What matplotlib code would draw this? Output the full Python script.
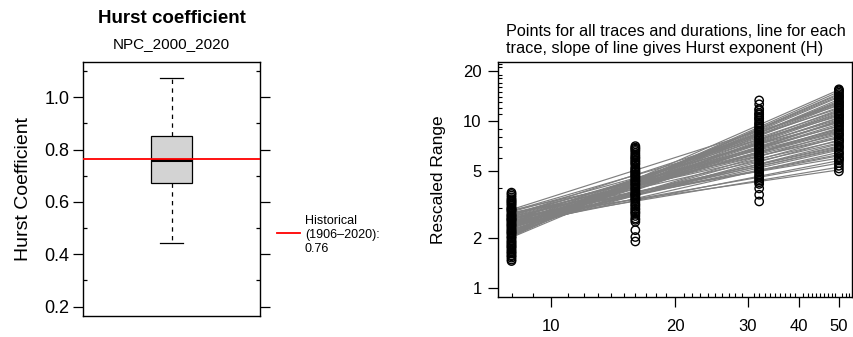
import matplotlib
matplotlib.use('Agg')
import matplotlib.pyplot as plt
import numpy as np
from matplotlib.ticker import FixedLocator, NullFormatter, FixedFormatter
from matplotlib.lines import Line2D

plt.rcParams['font.family'] = ['Liberation Sans', 'DejaVu Sans']

# ---------------- data ----------------
hurst_title = "Hurst coefficient"
hurst_subtitle = "NPC_2000_2020"
hurst_med = 0.760
hurst_q1 = 0.672
hurst_q3 = 0.851
hurst_whislo = 0.444
hurst_whishi = 1.073
historical_h = 0.764
historical_label = "Historical\n(1906\u20132020):\n0.76"

durations = [8, 16, 32, 50]
rs_8 = [2.31, 1.87, 2.64, 1.52, 3.05, 2.12, 2.78, 1.69, 3.41, 2.45, 1.98, 2.89, 1.61, 2.23, 3.22,
        2.56, 1.76, 3.58, 2.03, 2.71, 1.48, 2.38, 3.12, 1.93, 2.84, 2.17, 3.66, 1.57, 2.49, 2.95,
        1.81, 3.31, 2.27, 1.66, 2.60, 3.00, 2.08, 3.49, 1.73, 2.41, 1.45, 2.68, 3.17, 1.90, 2.53,
        3.73, 2.14, 1.63, 2.99, 2.35, 1.84, 3.27, 2.74, 1.55, 2.20, 3.36, 2.01, 2.58, 1.78, 2.92]
rs_16 = [4.12, 3.35, 5.48, 2.61, 6.05, 3.88, 4.71, 2.95, 6.62, 3.52, 1.90, 5.12, 4.34, 3.07, 5.86,
         2.78, 4.56, 7.08, 3.71, 4.93, 2.49, 6.31, 3.18, 5.30, 4.02, 2.22, 5.67, 3.44, 4.83, 6.85,
         2.87, 4.25, 3.62, 5.99, 2.56, 4.47, 3.95, 6.47, 3.26, 5.21, 2.02, 4.64, 3.80, 5.56, 2.70,
         6.18, 4.18, 3.13, 5.04, 6.74, 3.58, 4.39, 2.99, 5.76, 3.41, 4.78, 6.94, 3.66, 4.97, 2.83]
rs_32 = [7.2, 5.4, 9.8, 4.4, 11.2, 6.3, 8.5, 3.62, 10.4, 5.9, 7.8, 4.8, 12.6, 6.7, 9.1,
         5.1, 8.0, 10.9, 4.3, 6.1, 7.5, 9.5, 5.6, 11.6, 3.30, 8.8, 6.5, 4.6, 10.1, 7.0,
         5.3, 13.3, 8.3, 6.9, 4.95, 9.3, 5.75, 7.35, 11.0, 3.95, 6.0, 8.6, 4.5, 10.6, 7.65,
         5.2, 9.0, 6.45, 11.8, 5.0, 7.9, 4.2, 6.8, 8.15, 10.3, 5.5, 9.65, 7.1, 6.2, 4.7]
rs_50 = [9.8, 7.1, 12.6, 5.6, 14.2, 8.4, 10.9, 6.3, 13.5, 8.0, 11.6, 5.2, 9.3, 15.5, 7.5,
         10.4, 6.0, 12.1, 8.8, 14.8, 6.7, 11.0, 5.0, 9.6, 13.0, 7.8, 10.0, 6.5, 12.9, 8.6,
         15.1, 5.8, 11.3, 7.3, 9.1, 13.8, 6.1, 10.7, 8.2, 14.5, 5.4, 12.3, 9.4, 7.0, 11.9,
         6.9, 10.2, 13.2, 8.9, 5.9, 15.3, 7.6, 11.5, 9.9, 6.4, 12.4, 8.3, 14.0, 10.6, 7.7]

line_start = [2.42, 2.15, 2.68, 2.31, 2.05, 2.57, 2.80, 2.22, 2.49, 2.36, 2.92, 2.11, 2.63, 2.27, 2.74,
              2.45, 2.01, 2.53, 2.86, 2.19, 2.39, 2.60, 2.08, 2.71, 2.33, 2.47, 2.95, 2.25, 2.55, 2.13,
              2.66, 2.40, 2.83, 2.29, 2.51, 2.03, 2.77, 2.35, 2.59, 2.17, 2.44, 2.89, 2.23, 2.65, 2.37,
              2.10, 2.58, 2.73, 2.30, 2.48, 2.06, 2.62, 2.41, 2.20, 2.78, 2.52, 2.34, 2.69, 2.14, 2.46]
line_end = [9.6, 12.8, 7.4, 10.5, 14.6, 6.8, 8.9, 11.7, 5.3, 9.1, 7.9, 15.4, 6.2, 10.9, 8.3,
            12.1, 13.5, 7.1, 9.8, 11.2, 5.8, 8.6, 13.9, 10.2, 6.5, 9.4, 12.4, 7.7, 11.5, 14.1,
            8.1, 10.0, 6.0, 12.9, 8.8, 15.0, 9.3, 7.3, 11.0, 13.2, 6.7, 10.7, 8.5, 5.1, 9.9,
            12.6, 7.0, 11.9, 8.0, 10.4, 14.4, 6.3, 9.0, 11.4, 7.6, 5.6, 13.0, 8.7, 10.1, 6.9]

right_title = "Points for all traces and durations, line for each\ntrace, slope of line gives Hurst exponent (H)"
x_major = [10, 20, 30, 40, 50]
y_major = [1, 2, 5, 10, 20]

# ---------------- figure ----------------
W, H = 854, 337
fig = plt.figure(figsize=(W / 100, H / 100), dpi=100)

def px_axes(l, t, r, b):
    return fig.add_axes([l / W, 1 - b / H, (r - l) / W, (b - t) / H])

# ---- left: boxplot ----
ax1 = px_axes(83.3, 61.7, 260, 316)
stats = [dict(med=hurst_med, q1=hurst_q1, q3=hurst_q3, whislo=hurst_whislo, whishi=hurst_whishi, fliers=[])]
ax1.bxp(stats, positions=[1], widths=0.233, patch_artist=True, showfliers=False, capwidths=0.13,
        boxprops=dict(facecolor='#d3d3d3', edgecolor='black', linewidth=0.9),
        medianprops=dict(color='black', linewidth=2.2),
        whiskerprops=dict(color='black', linewidth=0.9, linestyle=(0, (3.5, 3.5))),
        capprops=dict(color='black', linewidth=0.9))
ax1.axhline(historical_h, color='red', linewidth=1.3, zorder=5)
ax1.set_xlim(0.5, 1.5)
ax1.set_ylim(0.164, 1.136)
ax1.set_xticks([])
ax1.yaxis.set_major_locator(FixedLocator([0.2, 0.4, 0.6, 0.8, 1.0]))
ax1.yaxis.set_major_formatter(FixedFormatter(['0.2', '0.4', '0.6', '0.8', '1.0']))
ax1.yaxis.set_minor_locator(FixedLocator([0.3, 0.5, 0.7, 0.9, 1.1]))
ax1.tick_params(axis='y', which='major', direction='out', length=7, width=0.9,
                left=True, right=True, labelsize=13, pad=3)
ax1.tick_params(axis='y', which='minor', direction='in', length=3, width=0.9, left=True, right=True)
for s in ax1.spines.values():
    s.set_linewidth(1.0)
ax1.set_ylabel("Hurst Coefficient", fontsize=14)
ax1.yaxis.set_label_coords(-0.29, 0.5)

fig.text(171.7 / W, 1 - 18.5 / H, hurst_title, ha='center', va='center', fontsize=13.5, fontweight='bold')
fig.text(171.7 / W, 1 - 44 / H, hurst_subtitle, ha='center', va='center', fontsize=11)

fig.add_artist(Line2D([277 / W, 300 / W], [1 - 233.3 / H, 1 - 233.3 / H], color='red', linewidth=1.3))
fig.text(305 / W, 1 - 235 / H, historical_label, ha='left', va='center', fontsize=9, linespacing=1.2)

# ---- right: R/S log-log ----
ax2 = px_axes(498.3, 62.3, 852, 296.7)
ax2.set_xscale('log')
ax2.set_yscale('log')
for s0, s1 in zip(line_start, line_end):
    ax2.plot([durations[0], durations[-1]], [s0, s1], color='#808080', linewidth=0.85, zorder=2)
for d, vals in zip(durations, [rs_8, rs_16, rs_32, rs_50]):
    ax2.scatter(np.full(len(vals), d), vals, s=36, facecolors='none', edgecolors='black',
                linewidths=1.0, zorder=3)
ax2.set_xlim(7.43, 53.8)
ax2.set_ylim(0.887, 22.5)
ax2.xaxis.set_major_locator(FixedLocator(x_major))
ax2.xaxis.set_major_formatter(FixedFormatter([str(v) for v in x_major]))
ax2.xaxis.set_minor_locator(FixedLocator([v for v in range(8, 54) if v not in x_major]))
ax2.xaxis.set_minor_formatter(NullFormatter())
ax2.yaxis.set_major_locator(FixedLocator(y_major))
ax2.yaxis.set_major_formatter(FixedFormatter([str(v) for v in y_major]))
ax2.yaxis.set_minor_locator(FixedLocator([v for v in range(1, 23) if v not in y_major]))
ax2.yaxis.set_minor_formatter(NullFormatter())
ax2.tick_params(which='major', direction='out', length=7, width=0.9, labelsize=12)
ax2.tick_params(axis='x', which='major', pad=9)
ax2.tick_params(axis='y', which='major', pad=5)
ax2.tick_params(which='minor', direction='in', length=3, width=0.8)
for s in ax2.spines.values():
    s.set_linewidth(1.0)
ax2.set_ylabel("Rescaled Range", fontsize=12.5)
ax2.yaxis.set_label_coords(-0.148, 0.5)
fig.text(506 / W, 1 - 24 / H, right_title, ha='left', va='top', fontsize=11.7, linespacing=1.2)

fig.savefig('out.png', dpi=100)
